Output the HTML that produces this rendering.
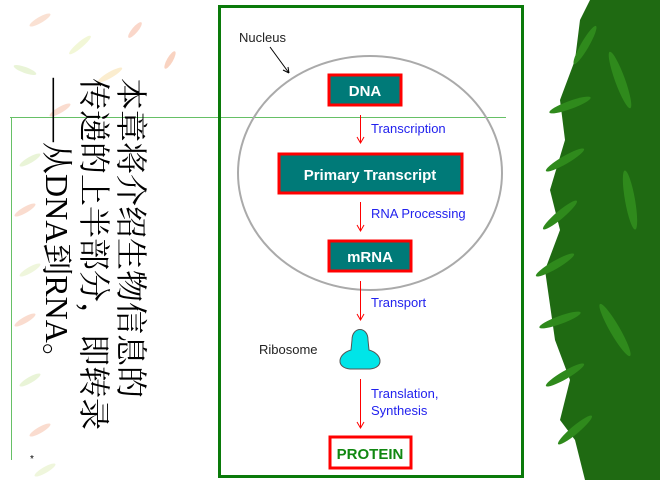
<!DOCTYPE html>
<html><head><meta charset="utf-8"><style>
html,body{margin:0;padding:0;width:660px;height:480px;overflow:hidden;background:#fff;position:relative;font-family:"Liberation Sans",sans-serif}
.cn{position:absolute;left:149px;top:78px;transform-origin:0 0;transform:rotate(90deg);font-family:"Liberation Serif","Noto Serif CJK SC","Noto Sans CJK SC",serif;font-size:32px;line-height:37px;white-space:nowrap;color:#000;width:360px}
</style></head><body>
<svg width="660" height="480" style="position:absolute;left:0;top:0">
<g opacity="0.55">
<ellipse cx="40" cy="20" rx="12" ry="3" fill="#f7c9b0" transform="rotate(-30 40 20)"/>
<ellipse cx="80" cy="45" rx="14" ry="3" fill="#e9f2b8" transform="rotate(-40 80 45)"/>
<ellipse cx="135" cy="30" rx="10" ry="3" fill="#f6b8a0" transform="rotate(-50 135 30)"/>
<ellipse cx="25" cy="70" rx="12" ry="3" fill="#d8ecb8" transform="rotate(20 25 70)"/>
<ellipse cx="110" cy="75" rx="14" ry="3" fill="#f9e0a8" transform="rotate(-30 110 75)"/>
<ellipse cx="170" cy="60" rx="10" ry="3" fill="#f5b090" transform="rotate(-60 170 60)"/>
<ellipse cx="60" cy="110" rx="12" ry="3" fill="#f6c0a8" transform="rotate(-30 60 110)"/>
<ellipse cx="30" cy="160" rx="12" ry="3" fill="#d8ecb8" transform="rotate(-30 30 160)"/>
<ellipse cx="25" cy="210" rx="12" ry="3" fill="#f6c0a8" transform="rotate(-30 25 210)"/>
<ellipse cx="30" cy="270" rx="12" ry="3" fill="#e3f0c0" transform="rotate(-30 30 270)"/>
<ellipse cx="25" cy="320" rx="12" ry="3" fill="#f6c0a8" transform="rotate(-30 25 320)"/>
<ellipse cx="30" cy="380" rx="12" ry="3" fill="#d8ecb8" transform="rotate(-30 30 380)"/>
<ellipse cx="40" cy="430" rx="12" ry="3" fill="#f6c0a8" transform="rotate(-30 40 430)"/>
<ellipse cx="45" cy="470" rx="12" ry="3" fill="#e3f0c0" transform="rotate(-30 45 470)"/>
</g>
<rect x="10" y="117" width="496" height="1" fill="#66c066"/>
<rect x="11" y="117" width="1" height="343" fill="#66c066"/>
<text x="30" y="462" font-size="10" fill="#000">*</text>
<path d="M590,0 L660,0 L660,480 L585,480 L575,440 L560,420 L570,380 L555,340 L545,270 L560,230 L550,190 L565,140 L560,100 L575,60 L580,20 Z" fill="#1f6a12"/>
<g fill="#2f8a1c">
<ellipse cx="585" cy="45" rx="22" ry="4" transform="rotate(-60 585 45)"/>
<ellipse cx="570" cy="105" rx="22" ry="4" transform="rotate(-20 570 105)"/>
<ellipse cx="565" cy="160" rx="22" ry="4" transform="rotate(-30 565 160)"/>
<ellipse cx="560" cy="215" rx="22" ry="4" transform="rotate(-40 560 215)"/>
<ellipse cx="555" cy="265" rx="22" ry="4" transform="rotate(-30 555 265)"/>
<ellipse cx="560" cy="320" rx="22" ry="4" transform="rotate(-20 560 320)"/>
<ellipse cx="565" cy="375" rx="22" ry="4" transform="rotate(-30 565 375)"/>
<ellipse cx="575" cy="430" rx="22" ry="4" transform="rotate(-40 575 430)"/>
<ellipse cx="620" cy="80" rx="30" ry="5" transform="rotate(70 620 80)"/>
<ellipse cx="630" cy="200" rx="30" ry="5" transform="rotate(80 630 200)"/>
<ellipse cx="615" cy="330" rx="30" ry="5" transform="rotate(60 615 330)"/>
</g>
<rect x="219.5" y="6.5" width="303" height="470" fill="none" stroke="#0a7a0a" stroke-width="3"/>
<ellipse cx="370" cy="173" rx="132" ry="117" fill="none" stroke="#aaa" stroke-width="2"/>
<text x="239" y="42" font-size="13" fill="#222">Nucleus</text>
<line x1="270" y1="47" x2="289" y2="73" stroke="#000" stroke-width="1"/>
<path d="M289,73 L283,70 M289,73 L288,67" stroke="#000" stroke-width="1"/>
<rect x="329" y="75" width="72" height="30" fill="#007a78" stroke="#f00" stroke-width="3"/>
<text x="365" y="96" font-size="15" font-weight="bold" fill="#fff" text-anchor="middle">DNA</text>
<rect x="279" y="154" width="183" height="39" fill="#007a78" stroke="#f00" stroke-width="3"/>
<text x="370" y="180" font-size="15" font-weight="bold" fill="#fff" text-anchor="middle">Primary Transcript</text>
<rect x="329" y="241" width="82" height="30" fill="#007a78" stroke="#f00" stroke-width="3"/>
<text x="370" y="262" font-size="15" font-weight="bold" fill="#fff" text-anchor="middle">mRNA</text>
<rect x="330" y="437" width="81" height="31" fill="#fff" stroke="#f00" stroke-width="3"/>
<text x="370" y="459" font-size="15" font-weight="bold" fill="#118811" text-anchor="middle">PROTEIN</text>
<g stroke="#f00" stroke-width="1" fill="none">
<line x1="360.5" y1="115" x2="360.5" y2="143"/><path d="M357,137 L360.5,143 L364,137"/>
<line x1="360.5" y1="202" x2="360.5" y2="231"/><path d="M357,225 L360.5,231 L364,225"/>
<line x1="360.5" y1="281" x2="360.5" y2="320"/><path d="M357,314 L360.5,320 L364,314"/>
<line x1="360.5" y1="379" x2="360.5" y2="428"/><path d="M357,422 L360.5,428 L364,422"/>
</g>
<g font-size="13" fill="#2222ee">
<text x="371" y="133">Transcription</text>
<text x="371" y="218">RNA Processing</text>
<text x="371" y="307">Transport</text>
<text x="371" y="398">Translation,</text>
<text x="371" y="415">Synthesis</text>
</g>
<text x="259" y="354" font-size="13" fill="#222">Ribosome</text>
<path d="M352,340 C352,326 368,326 368,340 L369,350 C383,354 384,368 370,369 L350,369 C336,368 337,354 351,350 Z" fill="#00e5e8" stroke="#555" stroke-width="1"/>
</svg>
<div class="cn">本章将介绍生物信息的<br>传递的上半部分，即转录<br>——从DNA到RNA。</div>
</body></html>
